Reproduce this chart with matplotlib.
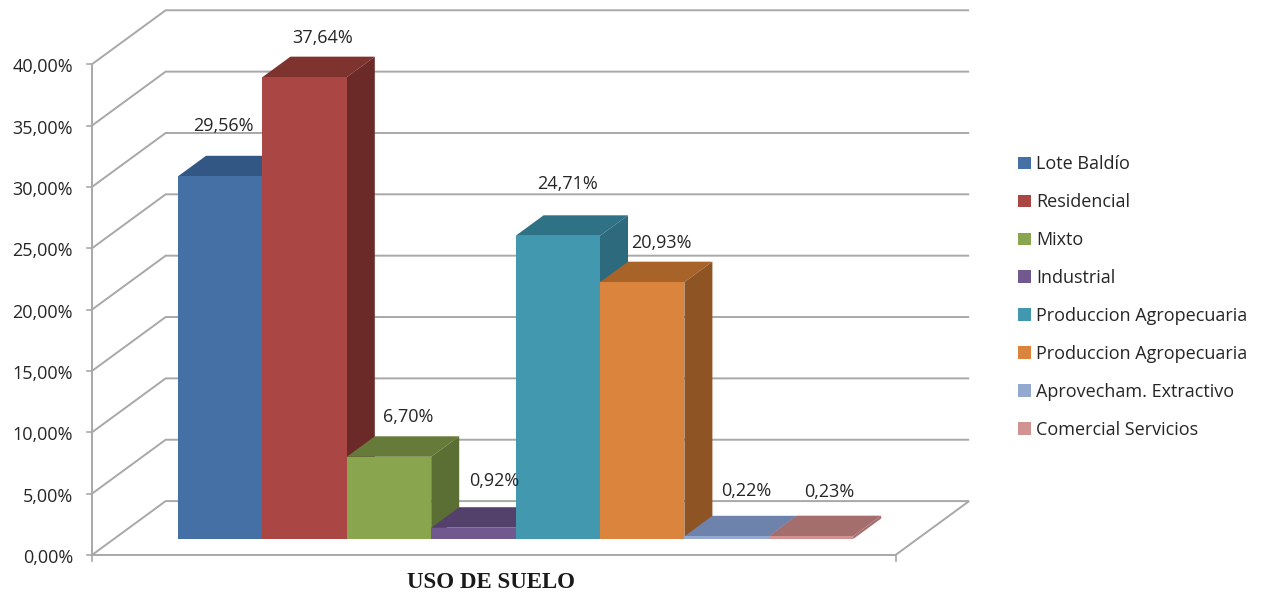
import matplotlib
matplotlib.use('Agg')
import matplotlib.pyplot as plt
from matplotlib.patches import Patch, Polygon

# Datos del grafico
usos = ['Lote Baldío', 'Residencial', 'Mixto', 'Industrial', 'Produccion Agropecuaria',
        'Produccion Agropecuaria', 'Aprovecham. Extractivo', 'Comercial Servicios']
valores = [29.56, 37.64, 6.70, 0.92, 24.71, 20.93, 0.22, 0.23]
etiquetas = ['29,56%', '37,64%', '6,70%', '0,92%', '24,71%', '20,93%', '0,22%', '0,23%']
ticks_y = [0, 5, 10, 15, 20, 25, 30, 35, 40]
ticks_txt = ['0,00%', '5,00%', '10,00%', '15,00%', '20,00%', '25,00%', '30,00%', '35,00%', '40,00%']

# Colores: frente, tapa, lado
c_frente = ['#4470A6', '#AA4643', '#89A54E', '#71588F', '#4198AF', '#DB843D', '#93A9CF', '#D19392']
c_tapa = ['#335785', '#7F332F', '#667B3A', '#54416B', '#2F7286', '#A86329', '#6E83AC', '#A56E6E']
c_lado = ['#2C4C75', '#6B2A27', '#5B6E33', '#4A3A5F', '#2D6A7D', '#8F5423', '#6E83AC', '#A56E6E']
gris = '#A8A8A8'

W, H = 1269, 593
PX_X = 84.4   # px por categoria
PX_Y = 12.27  # px por punto porcentual
X0, Y0 = 178, 539  # pixel de categoria 0, valor 0
DX, DY = 28, 20.5  # desplazamiento de una profundidad de barra

fig = plt.figure(figsize=(W / 100, H / 100), dpi=100)
ax = fig.add_axes([0, 0, 1, 1])
ax.set_xlim(-X0 / PX_X, (W - X0) / PX_X)
ax.set_ylim(-(H - Y0) / PX_Y, Y0 / PX_Y)
ax.axis('off')


# categoria, valor, profundidad -> coordenadas de datos
def proy(c, v, d=0.0):
    return c + d * DX / PX_X, v + d * DY / PX_Y


def linea(puntos, lw=1.4):
    xs = [p[0] for p in puntos]
    ys = [p[1] for p in puntos]
    ax.plot(xs, ys, color=gris, lw=lw, solid_capstyle='butt', zorder=1)


C_I, C_D = -0.76, 8.76  # extremos del piso
D_F, D_A = -0.78, 1.85  # frente y fondo

# Paredes y cuadricula
for t, txt in zip(ticks_y, ticks_txt):
    linea([proy(C_I, t, D_F), proy(C_I, t, D_A), proy(C_D, t, D_A)])
    fx, fy = proy(C_I, t, D_F)
    ax.plot([fx - 5 / PX_X, fx], [fy, fy], color=gris, lw=1.2, zorder=1)
    ax.text(fx - 19 / PX_X, fy - 3 / PX_Y, txt, ha='right', va='center', fontsize=13,
            family='Open Sans', color='#262626')

# Ejes y piso
linea([proy(C_I, 40, D_F), proy(C_I, 0, D_F), proy(C_D, 0, D_F), proy(C_D, 0, D_A)])
for c in [C_I, C_D]:
    fx, fy = proy(c, 0, D_F)
    ax.plot([fx, fx], [fy, fy - 6 / PX_Y], color=gris, lw=1.2, zorder=1)

# Barras
for i, v in enumerate(valores):
    izq, der = i, i + 1
    tapa = [proy(izq, v), proy(der, v), proy(der, v, 1), proy(izq, v, 1)]
    lado = [proy(der, 0), proy(der, v), proy(der, v, 1), proy(der, 0, 1)]
    frente = [proy(izq, 0), proy(der, 0), proy(der, v), proy(izq, v)]
    ax.add_patch(Polygon(tapa, fc=c_tapa[i], ec='none', zorder=2 + i))
    ax.add_patch(Polygon(lado, fc=c_lado[i], ec='none', zorder=2 + i))
    ax.add_patch(Polygon(frente, fc=c_frente[i], ec='none', zorder=2 + i))

# Etiquetas, desplazadas a mano desde el centro de la tapa (px)
despl = [(3, 50), (18, 39), (19, 40), (21, 47), (10, 52), (19, 39), (20, 45), (18, 44)]
for i, v in enumerate(valores):
    ax.annotate(etiquetas[i], xy=proy(i + 0.5, v), xytext=(despl[i][0] * 0.72, despl[i][1] * 0.72),
                textcoords='offset points', ha='center', va='center', fontsize=13,
                family='Open Sans', color='#262626', zorder=20)

ax.text(3.71, -(583 - Y0) / PX_Y, 'USO DE SUELO', ha='center', va='center', fontsize=16.5,
        family='Liberation Serif', fontweight='bold', color='#1a1a1a')

handles = [Patch(fc=c, ec='none') for c in c_frente]
ax.legend(handles, usos, loc='center left', bbox_to_anchor=(1002 / W, 1 - 297 / H), frameon=False,
          handlelength=0.7, handleheight=0.7, handletextpad=0.3, labelspacing=1.10,
          labelcolor='#262626', prop={'family': 'Open Sans', 'size': 13})

fig.savefig('out.png', dpi=100)
